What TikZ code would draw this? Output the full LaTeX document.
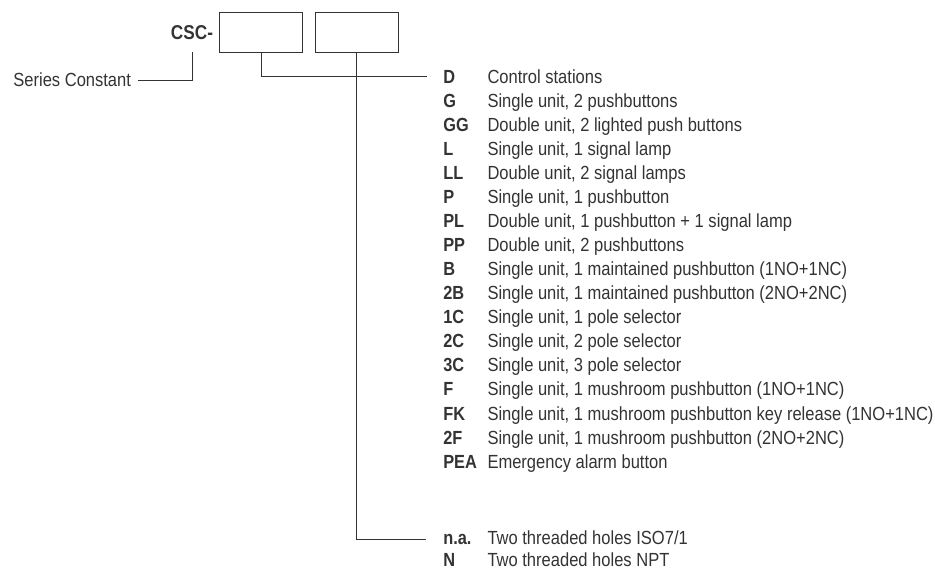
\documentclass[tikz,border=0pt]{standalone}
\usepackage{fontspec}
\setmainfont{Liberation Sans}[FakeStretch=0.87,BoldFeatures={FakeStretch=0.86}]
\definecolor{ink}{gray}{0.2}
\begin{document}
\begin{tikzpicture}[x=1pt,y=-1pt,
  every node/.style={inner sep=0pt,outer sep=0pt,text=ink,font=\fontsize{19}{21}\selectfont},
  code/.style={anchor=base west,font=\fontsize{19}{21}\selectfont\bfseries},
  desc/.style={anchor=base west},
  box/.style={draw=ink,line width=1pt,minimum width=83.4pt,minimum height=40pt,anchor=north west},
  conn/.style={draw=ink,line width=1pt}]
\useasboundingbox (0,0) rectangle (935,568);
\node[code,anchor=base east,font=\fontsize{20}{22}\selectfont\bfseries] (csc) at (213,39.3) {CSC-};
\node[box] (b1) at (219.3,12.3) {};
\node[box] (b2) at (315,12.3) {};
\node[desc,anchor=east] (sc) at (131,80) {Series Constant};
\coordinate (c1) at (192,52.3);
\draw[conn] ([xshift=7pt]sc.east) -| (c1);
\foreach \c/\d [count=\i from 0] in {
  D/Control stations,
  G/{Single unit, 2 pushbuttons},
  GG/{Double unit, 2 lighted push buttons},
  L/{Single unit, 1 signal lamp},
  LL/{Double unit, 2 signal lamps},
  P/{Single unit, 1 pushbutton},
  PL/{Double unit, 1 pushbutton + 1 signal lamp},
  PP/{Double unit, 2 pushbuttons},
  B/{Single unit, 1 maintained pushbutton (1NO+1NC)},
  2B/{Single unit, 1 maintained pushbutton (2NO+2NC)},
  1C/{Single unit, 1 pole selector},
  2C/{Single unit, 2 pole selector},
  3C/{Single unit, 3 pole selector},
  F/{Single unit, 1 mushroom pushbutton (1NO+1NC)},
  FK/{Single unit, 1 mushroom pushbutton key release (1NO+1NC)},
  2F/{Single unit, 1 mushroom pushbutton (2NO+2NC)},
  PEA/{Emergency alarm button}}{
  \node[code] (k\i) at (443.3,{83.3+24.05*\i}) {\c};
  \node[desc] (d\i) at (487.5,{83.3+24.05*\i}) {\d};
}
\node[code] (na) at (443.3,544.5) {n.a.};
\node[desc] (dna) at (487.5,544.5) {Two threaded holes ISO7/1};
\node[code] (n) at (443.3,566.8) {N};
\node[desc] (dn) at (487.5,566.8) {Two threaded holes NPT};
\coordinate (e1) at (426.7,76);
\coordinate (e2) at (426,539);
\draw[conn] (b1.south) |- (e1);
\draw[conn] (b2.south) |- (e2);
\end{tikzpicture}
\end{document}
